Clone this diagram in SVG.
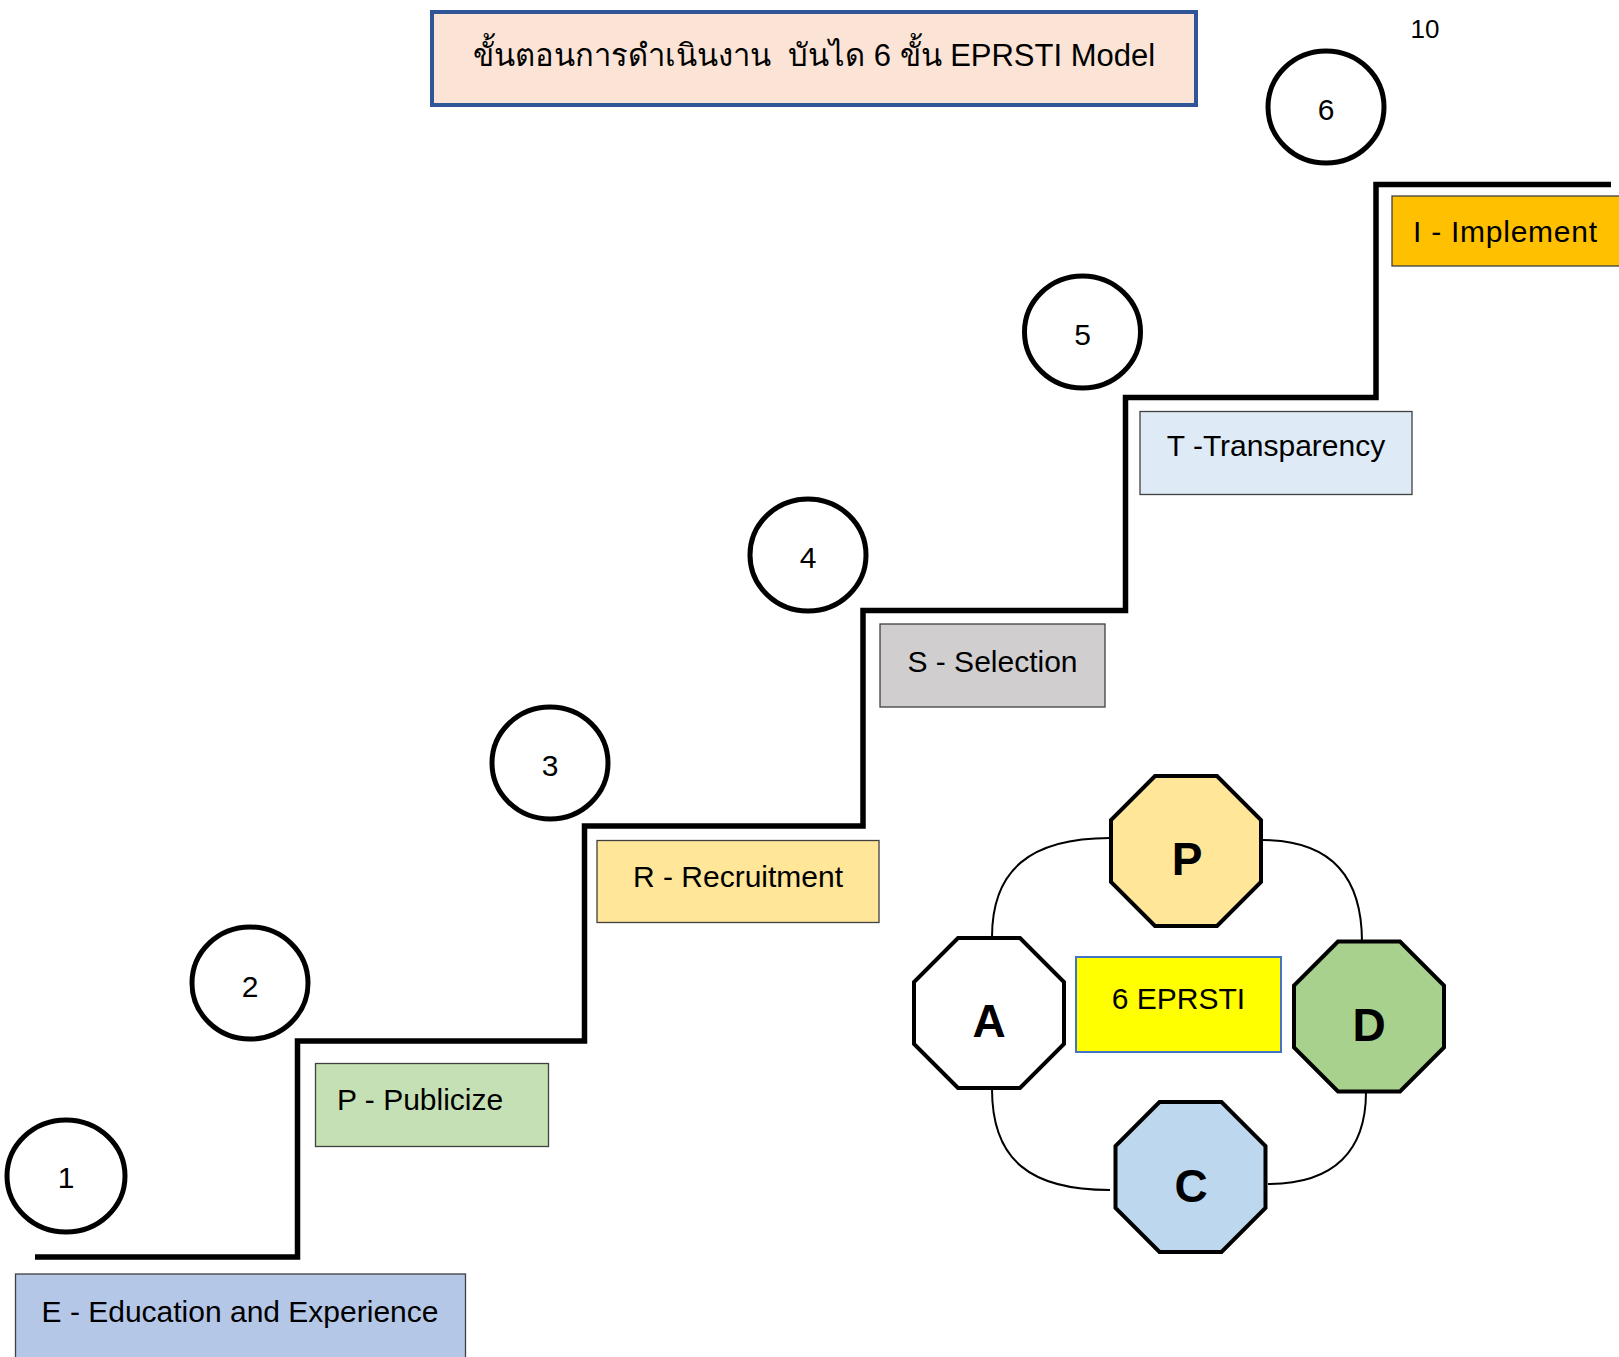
<svg xmlns="http://www.w3.org/2000/svg" width="1619" height="1357" viewBox="0 0 1619 1357">
<style>
.lbl{font-family:"Liberation Sans","Noto Sans",sans-serif;font-size:30px;fill:#000}
.num{font-family:"Liberation Sans","Noto Sans",sans-serif;font-size:30px;fill:#000;text-anchor:middle}
.big{font-family:"Liberation Sans",Arial,sans-serif;font-size:46px;font-weight:bold;fill:#000;text-anchor:middle}
.box{stroke:#404040;stroke-width:1.3}
.circ{fill:#fff;stroke:#000;stroke-width:5}
.oct{stroke:#000;stroke-width:4;stroke-linejoin:miter}
.stair{fill:none;stroke:#000;stroke-width:5.5;stroke-linejoin:miter;stroke-linecap:butt}
.arc{fill:none;stroke:#000;stroke-width:2}
</style>
<defs>
<polygon id="octagon" points="-31,-75 31,-75 75,-31 75,31 31,75 -31,75 -75,31 -75,-31"/>
</defs>
<rect width="1619" height="1357" fill="#fff"/>

<g id="title">
<rect x="432" y="12" width="764" height="93" fill="#FBE4D5" stroke="#2F5597" stroke-width="4"/>
<text x="814" y="66" text-anchor="middle" style="font-family:'Liberation Sans','Noto Sans',sans-serif;font-size:31px">ขั้นตอนการดำเนินงาน&#160; บันได 6 ขั้น EPRSTI Model</text>
</g>
<g id="page-number">
<text x="1425" y="38" text-anchor="middle" style="font-family:'Liberation Sans','Noto Sans',sans-serif;font-size:26px">10</text>
</g>

<g id="connectors">
<path class="stair" d="M35 1257 H297.5 V1041 H584.5 V826 H863 V610.5 H1125.5 V397.5 H1376 V184.5 H1611"/>
<path class="arc" d="M992 937 C992 870 1030 838 1110 838"/>
<path class="arc" d="M1262 840 C1330 840 1362 875 1362 942"/>
<path class="arc" d="M1366 1092 C1366 1150 1335 1184 1268 1184"/>
<path class="arc" d="M992 1089 C992 1160 1030 1190 1110 1190"/>
</g>

<g id="step1">
<ellipse class="circ" cx="66" cy="1176" rx="59" ry="56"/>
<text class="num" x="66" y="1188">1</text>
</g>
<g id="step2">
<ellipse class="circ" cx="250" cy="983" rx="58" ry="56"/>
<text class="num" x="250" y="997">2</text>
</g>
<g id="step3">
<ellipse class="circ" cx="550" cy="763" rx="58" ry="56"/>
<text class="num" x="550" y="776">3</text>
</g>
<g id="step4">
<ellipse class="circ" cx="808" cy="555" rx="58" ry="56"/>
<text class="num" x="808" y="568">4</text>
</g>
<g id="step5">
<ellipse class="circ" cx="1082.5" cy="332" rx="58" ry="56"/>
<text class="num" x="1082.5" y="345">5</text>
</g>
<g id="step6">
<ellipse class="circ" cx="1326" cy="107" rx="58" ry="56"/>
<text class="num" x="1326" y="120">6</text>
</g>

<g id="box-E">
<rect class="box" x="15.5" y="1274" width="450" height="90" fill="#B4C7E7"/>
<text class="lbl" x="240" y="1322" text-anchor="middle">E - Education and Experience</text>
</g>
<g id="box-P">
<rect class="box" x="315.5" y="1063.5" width="233" height="83" fill="#C5E0B4"/>
<text class="lbl" x="337" y="1110">P - Publicize</text>
</g>
<g id="box-R">
<rect class="box" x="597" y="840.5" width="282" height="82" fill="#FFE699"/>
<text class="lbl" x="738" y="887" text-anchor="middle">R - Recruitment</text>
</g>
<g id="box-S">
<rect class="box" x="880" y="624" width="225" height="83" fill="#D0CECE"/>
<text class="lbl" x="992.5" y="671.5" text-anchor="middle">S - Selection</text>
</g>
<g id="box-T">
<rect class="box" x="1140" y="411.5" width="272" height="83" fill="#DEEBF7"/>
<text class="lbl" x="1276" y="456" text-anchor="middle">T -Transparency</text>
</g>
<g id="box-I">
<rect class="box" x="1392" y="196" width="230" height="70" fill="#FFC000"/>
<text class="lbl" x="1413" y="241.5" textLength="184">I - Implement</text>
</g>

<g id="oct-P">
<use href="#octagon" class="oct" fill="#FFE699" transform="translate(1186 851)"/>
<text class="big" x="1187" y="875">P</text>
</g>
<g id="oct-D">
<use href="#octagon" class="oct" fill="#A9D18E" transform="translate(1369 1016.5)"/>
<text class="big" x="1369" y="1041">D</text>
</g>
<g id="oct-A">
<use href="#octagon" class="oct" fill="#FFFFFF" transform="translate(989 1013)"/>
<text class="big" x="989" y="1037">A</text>
</g>
<g id="oct-C">
<use href="#octagon" class="oct" fill="#BDD7EE" transform="translate(1190.5 1177)"/>
<text class="big" x="1191" y="1201.5">C</text>
</g>
<g id="center-box">
<rect x="1076" y="957" width="205" height="95" fill="#FFFF00" stroke="#4472C4" stroke-width="2"/>
<text class="lbl" x="1178.5" y="1008.5" text-anchor="middle">6 EPRSTI</text>
</g>
</svg>
